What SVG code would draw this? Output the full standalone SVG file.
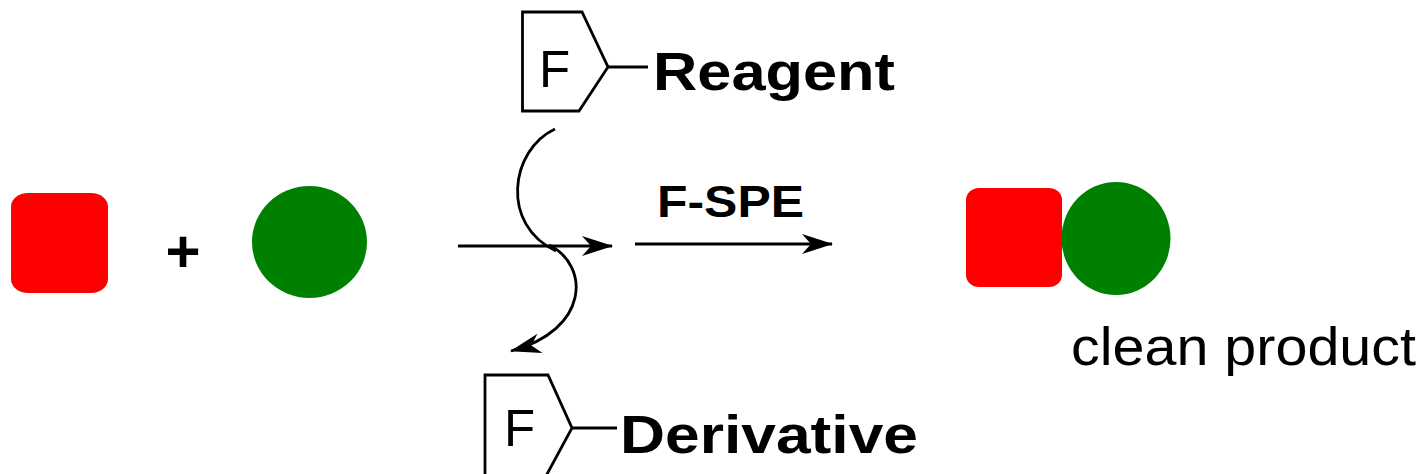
<svg xmlns="http://www.w3.org/2000/svg" width="1422" height="474" viewBox="0 0 1422 474">
  <style>
    .outline { fill: none; stroke: #000; stroke-width: 2.8; stroke-linejoin: miter; }
    .conn { fill: none; stroke: #000; stroke-width: 2.8; }
    .bold { font-family: "Liberation Sans", Arial, sans-serif; font-weight: bold; fill: #000; }
    .reg { font-family: "Liberation Sans", Arial, sans-serif; font-weight: normal; fill: #000; }
    .red { fill: #FF0000; }
    .green { fill: #008000; }
  </style>
  <defs>
    <marker id="arrow" markerUnits="userSpaceOnUse" markerWidth="40" markerHeight="30" refX="0" refY="0" viewBox="-34 -15 40 30" orient="auto" overflow="visible">
      <path d="M1,0 L-30,-10 L-21,0 L-30,10 Z" fill="#000"/>
    </marker>
  </defs>

  <rect width="1422" height="474" fill="#fff"/>

  <g id="reactant-square">
    <rect class="red" x="11" y="193" width="97" height="100" rx="17" ry="14"/>
  </g>

  <g id="plus">
    <text class="bold" x="183" y="272" font-size="60" text-anchor="middle">+</text>
  </g>

  <g id="reactant-circle">
    <ellipse class="green" cx="309.5" cy="242" rx="57.5" ry="56"/>
  </g>

  <g id="reagent">
    <path class="outline" d="M522.5,12 L582,12 L608,67 L579,111 L522.5,111 Z"/>
    <line class="outline" x1="608" y1="67" x2="648" y2="67"/>
    <text class="reg" x="539" y="87" font-size="51">F</text>
    <text class="bold" x="653" y="90" font-size="54" textLength="242" lengthAdjust="spacingAndGlyphs">Reagent</text>
  </g>

  <g id="derivative">
    <path class="outline" d="M485,476 L485,375 L548,375 L572,428 L546,476"/>
    <line class="outline" x1="572" y1="428" x2="617" y2="428"/>
    <text class="reg" x="504" y="446" font-size="51">F</text>
    <text class="bold" x="620" y="453" font-size="54" textLength="298" lengthAdjust="spacingAndGlyphs">Derivative</text>
  </g>

  <g id="fspe-label">
    <text class="bold" x="657" y="217" font-size="45" textLength="147" lengthAdjust="spacingAndGlyphs">F-SPE</text>
  </g>

  <g id="product">
    <rect class="red" x="966" y="188" width="96" height="99" rx="13" ry="12"/>
    <ellipse class="green" cx="1116" cy="238.5" rx="54.5" ry="56.5"/>
    <text class="reg" x="1071" y="365" font-size="53" textLength="345" lengthAdjust="spacingAndGlyphs">clean product</text>
  </g>

  <g id="connectors">
    <line class="conn" x1="458" y1="246" x2="612" y2="246" marker-end="url(#arrow)"/>
    <line class="conn" x1="635" y1="244" x2="832" y2="244" marker-end="url(#arrow)"/>
    <path class="conn" d="M555,129 C510,150 500,225 556,251"/>
    <path class="conn" d="M549,245 C590,265 590,330 511,351" marker-end="url(#arrow)"/>
  </g>
</svg>
